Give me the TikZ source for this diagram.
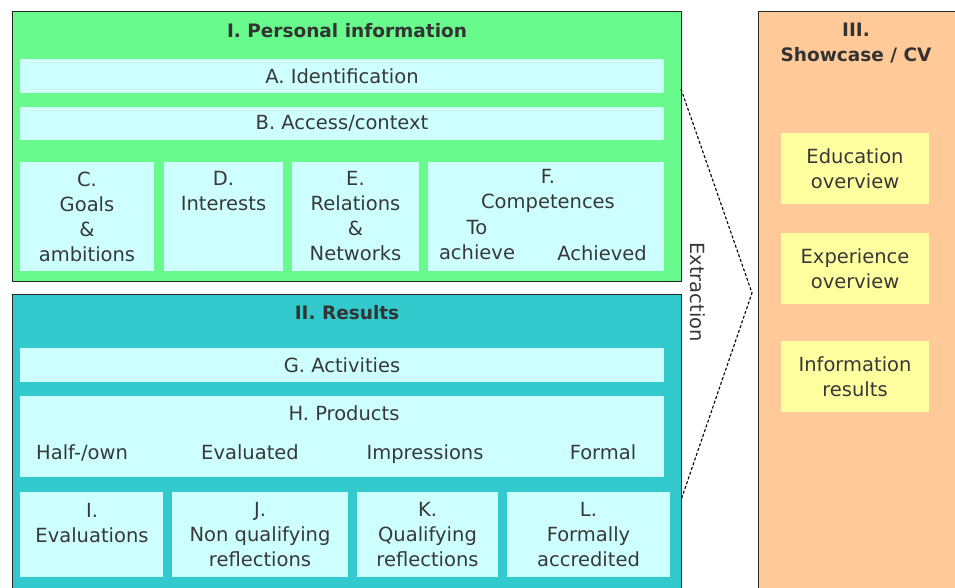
\documentclass[tikz,border=0pt]{standalone}
\usepackage{fontspec}
\setmainfont{DejaVu Sans}
\begin{document}
\begin{tikzpicture}[x=1pt,y=-1pt,
  every node/.style={inner sep=0pt, outer sep=0pt, text=black!78, font=\fontsize{19.5}{25}\selectfont, align=center},
  lbox/.style={fill=lcyan, anchor=north west},
  lab/.style={text height=14pt, text depth=4pt},
  title/.style={font=\fontsize{18.5}{25}\selectfont\bfseries, text=black!80},
  ybox/.style={fill=lyellow, anchor=north west, minimum width=148pt, minimum height=71pt},
  extr/.style={draw=black, line width=1.1pt, dash pattern=on 3pt off 2pt}
]
\definecolor{pgreen}{RGB}{104,250,140}
\definecolor{pteal}{RGB}{50,202,204}
\definecolor{lcyan}{RGB}{206,255,255}
\definecolor{porange}{RGB}{255,202,152}
\definecolor{lyellow}{RGB}{255,255,160}
\useasboundingbox (0,0) rectangle (955,588);
\clip (0,0) rectangle (955,588);
\fill[white] (0,0) rectangle (955,588);

% I. Personal information
\node[draw=black!85, line width=1pt, fill=pgreen, anchor=north west, minimum width=669pt, minimum height=269pt] (P) at (12,12) {};
\node[title] (Pt) at (347,31) {I. Personal information};
\node[lbox, minimum width=644pt, minimum height=34pt] (A) at (20,59) {A. Identification};
\node[lbox, minimum width=644pt, minimum height=33pt] (B) at (20,107) {B. Access/context};
\node[lbox, minimum width=134pt, minimum height=109pt] (C) at (20,162) {C.\\Goals\\\&\\ambitions};
\node[lbox, minimum width=119pt, minimum height=109pt] (D) at (164,162) {};
\node (Dt) at (223.5,191) {D.\\Interests};
\node[lbox, minimum width=127pt, minimum height=109pt] (E) at (292,162) {E.\\Relations\\\&\\Networks};
\node[lbox, minimum width=236pt, minimum height=109pt] (F) at (428,162) {};
\node (Ft) at (548,191) {F.\\Competences};
\node (Fa) at (477,240) {To\\achieve};
\node[lab] (Fb) at (602,255) {Achieved};

% II. Results
\node[draw=black!85, line width=1pt, fill=pteal, anchor=north west, minimum width=669pt, minimum height=310pt] (R) at (12,294) {};
\node[title] (Rt) at (347,313) {II. Results};
\node[lbox, minimum width=644pt, minimum height=34pt] (G) at (20,348) {G. Activities};
\node[lbox, minimum width=644pt, minimum height=81pt] (H) at (20,396) {};
\node[lab] (Ht) at (344,415) {H. Products};
\node[lab] (H1) at (82,454) {Half-/own};
\node[lab] (H2) at (250,454) {Evaluated};
\node[lab] (H3) at (425,454) {Impressions};
\node[lab] (H4) at (603,454) {Formal};
\node[lbox, minimum width=143pt, minimum height=85pt] (I) at (20,492) {};
\node (It) at (92,523) {I.\\Evaluations};
\node[lbox, minimum width=176pt, minimum height=85pt] (J) at (172,492) {J.\\Non qualifying\\reflections};
\node[lbox, minimum width=141pt, minimum height=85pt] (K) at (357,492) {K.\\Qualifying\\reflections};
\node[lbox, minimum width=163pt, minimum height=85pt] (L) at (507,492) {L.\\Formally\\accredited};

% Extraction
\coordinate (x1) at (681,89);
\coordinate (x2) at (752,293);
\coordinate (x3) at (681,500);
\draw[extr] (x1) -- (x2) -- (x3);
\node[rotate=-90] (X) at (698,292) {Extraction};

% III. Showcase
\node[draw=black!85, line width=1pt, fill=porange, anchor=north west, minimum width=220pt, minimum height=600pt] (S) at (758,12) {};
\node[title] (St) at (856,43) {III.\\Showcase / CV};
\node[ybox] (Y1) at (781,133) {Education\\overview};
\node[ybox] (Y2) at (781,233) {Experience\\overview};
\node[ybox] (Y3) at (781,341) {Information\\results};
\end{tikzpicture}
\end{document}
